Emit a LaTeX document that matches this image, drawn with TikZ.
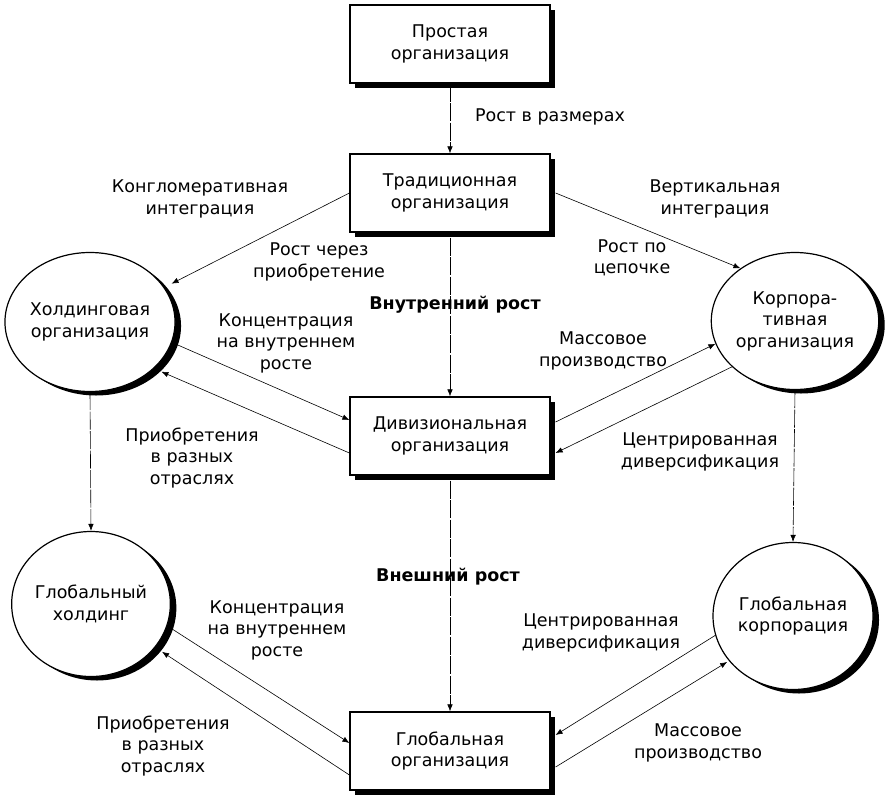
\documentclass[tikz,border=0pt]{standalone}
\usepackage{fontspec}
\setmainfont{DejaVu Sans}
\usetikzlibrary{shapes.geometric,shadows,arrows.meta,calc}
\begin{document}
\begin{tikzpicture}[x=1pt,y=-1pt,
 every node/.style={font=\fontsize{17.5}{21.5}\selectfont, align=center},
 orgbox/.style={draw, line width=1.2pt, fill=white, minimum width=200pt, minimum height=78pt, inner sep=0pt,
   drop shadow={shadow xshift=5pt, shadow yshift=-5pt, opacity=1, fill=black}},
 orgcirc/.style={ellipse, draw, line width=1.2pt, fill=white, inner sep=0pt,
   drop shadow={shadow xshift=6pt, shadow yshift=-4pt, opacity=1, fill=black}},
 conn/.style={line width=0.6pt, -{Latex[length=7pt,width=5.5pt]}},
 vconn/.style={conn, dash pattern=on 18pt off 1.5pt},
 lbl/.style={inner sep=0pt}
]
\useasboundingbox (0,0) rectangle (885,800);

% boxes
\node[orgbox] (b1) at (450,44) {Простая\\организация};
\node[orgbox] (b2) at (450,193) {Традиционная\\организация};
\node[orgbox] (b3) at (450,436) {Дивизиональная\\организация};
\node[orgbox] (b4) at (450,751) {Глобальная\\организация};

% circles
\node[orgcirc, minimum width=154pt, minimum height=139pt] (c1) at (90,322) {Холдинговая\\организация};
\node[orgcirc, minimum width=160pt, minimum height=137pt] (c2) at (795,321) {Корпора-\\тивная\\организация};
\node[orgcirc, minimum width=158pt, minimum height=145pt] (c3) at (91,604) {Глобальный\\холдинг};
\node[orgcirc, minimum width=160pt, minimum height=147pt] (c4) at (793,616) {Глобальная\\корпорация};

% connectors
\draw[vconn] (b1.south) -- (b2.north);
\draw[conn, shorten >=8pt] (b2.west) -- (c1.25);
\draw[conn] ([xshift=5pt]b2.east) -- (c2.136);
\draw[vconn] ([yshift=-5pt]b2.south) -- (b3.north);
\draw[conn] (c1.-14) -- ([yshift=16pt]b3.west);
\draw[conn, shorten >=8pt] ([yshift=-17pt]b3.west) -- (c1.-36);
\draw[vconn] (c1.south) -- (c3.north);
\draw[conn] ([xshift=5pt,yshift=14pt]b3.east) -- (c2.196);
\draw[conn] (c2.216) -- ([xshift=5pt,yshift=-17pt]b3.east);
\draw[vconn] (c2.south) -- (c4.north);
\draw[vconn] ([yshift=-5pt]b3.south) -- (b4.north);
\draw[conn] (c3.-16) -- ([yshift=8pt]b4.west);
\draw[conn, shorten >=8pt] ([yshift=-24pt]b4.west) -- (c3.-34);
\draw[conn] (c4.194) -- ([xshift=5pt,yshift=16pt]b4.east);
\draw[conn, shorten >=2pt] ([xshift=5pt,yshift=-16pt]b4.east) -- (c4.215);

% labels
\node[lbl] (l1) at (550,117) {Рост в размерах};
\node[lbl] (l2) at (200,199) {Конгломеративная\\интеграция};
\node[lbl] (l3) at (319,262) {Рост через\\приобретение};
\node[lbl] (l4) at (455,305) {\bfseries Внутренний рост};
\node[lbl] (l5) at (286,343) {Концентрация\\на внутреннем\\росте};
\node[lbl] (l6) at (192,458) {Приобретения\\в разных\\отраслях};
\node[lbl] (l7) at (715,199) {Вертикальная\\интеграция};
\node[lbl] (l8) at (632,258) {Рост по\\цепочке};
\node[lbl] (l9) at (603,351) {Массовое\\производство};
\node[lbl] (l10) at (700,452) {Центрированная\\диверсификация};
\node[lbl] (l11) at (448,577) {\bfseries Внешний рост};
\node[lbl] (l12) at (277,630) {Концентрация\\на внутреннем\\росте};
\node[lbl] (l13) at (163,746) {Приобретения\\в разных\\отраслях};
\node[lbl] (l14) at (601,633) {Центрированная\\диверсификация};
\node[lbl] (l15) at (698,743) {Массовое\\производство};
\end{tikzpicture}
\end{document}
